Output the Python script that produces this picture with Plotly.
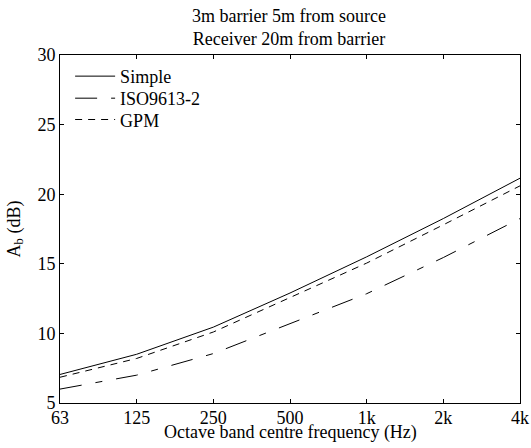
import plotly.graph_objects as go

freq_labels = ["63", "125", "250", "500", "1k", "2k", "4k"]
simple = [7.05, 8.5, 10.45, 12.9, 15.5, 18.25, 21.15]
iso9613 = [6.0, 7.0, 8.55, 10.7, 12.85, 15.45, 18.25]
gpm = [6.85, 8.2, 10.1, 12.6, 15.05, 17.8, 20.6]

FONT = "Liberation Serif"
FS = 18

fig = go.Figure()
fig.add_trace(go.Scatter(x=freq_labels, y=simple, mode="lines", name="Simple",
                         legend="legend",
                         line=dict(color="black", width=1, dash="solid")))
fig.add_trace(go.Scatter(x=freq_labels, y=iso9613, mode="lines", name="ISO9613-2",
                         legend="legend2",
                         line=dict(color="black", width=1, dash="22px,14px,7px,14px")))
fig.add_trace(go.Scatter(x=freq_labels, y=gpm, mode="lines", name="GPM",
                         legend="legend3",
                         line=dict(color="black", width=1, dash="7px,6px")))

axis_common = dict(showline=True, linecolor="black", linewidth=1, mirror="ticks",
                   ticks="inside", ticklen=4, tickcolor="black", tickwidth=1,
                   showgrid=False, zeroline=False, automargin=False,
                   tickfont=dict(family=FONT, size=FS, color="black"))

def leg(ypix):
    return dict(x=0.022, y=1 - (ypix - 55.3) / 347.4, xanchor="left", yanchor="middle",
                bgcolor="rgba(0,0,0,0)", borderwidth=0,
                font=dict(family=FONT, size=FS, color="black"),
                itemwidth=40)

fig.update_layout(
    width=531, height=448,
    margin=dict(l=60, r=11, t=55, b=45, autoexpand=False),
    paper_bgcolor="white", plot_bgcolor="white",
    font=dict(family=FONT, size=FS, color="black"),
    title=dict(text="3m barrier 5m from source<br>Receiver 20m from barrier",
               x=(289 / 531), xanchor="center", yref="container",
               y=1 - 21.5 / 448, yanchor="top", automargin=False,
               font=dict(family=FONT, size=FS, color="black")),
    xaxis=dict(type="category", range=[0, 6], ticklabelstandoff=-2,
               **axis_common),
    yaxis=dict(range=[5, 30], dtick=5,
               title=dict(text="A<sub>b</sub> (dB)", standoff=12,
                          font=dict(family=FONT, size=FS, color="black")),
               **axis_common),
    legend=leg(76.7),
    legend2=leg(98.7),
    legend3=leg(120.0),
    showlegend=True,
    hovermode=False,
    annotations=[dict(text="Octave band centre frequency (Hz)", xref="paper", yref="paper",
                      x=0.5, y=-(432 - 402.7) / 347.4, xanchor="center", yanchor="middle",
                      showarrow=False, font=dict(family=FONT, size=FS, color="black"))],
)

fig.write_html("out.html", config={"displayModeBar": False},
               post_script="document.body.style.margin='0px';")
